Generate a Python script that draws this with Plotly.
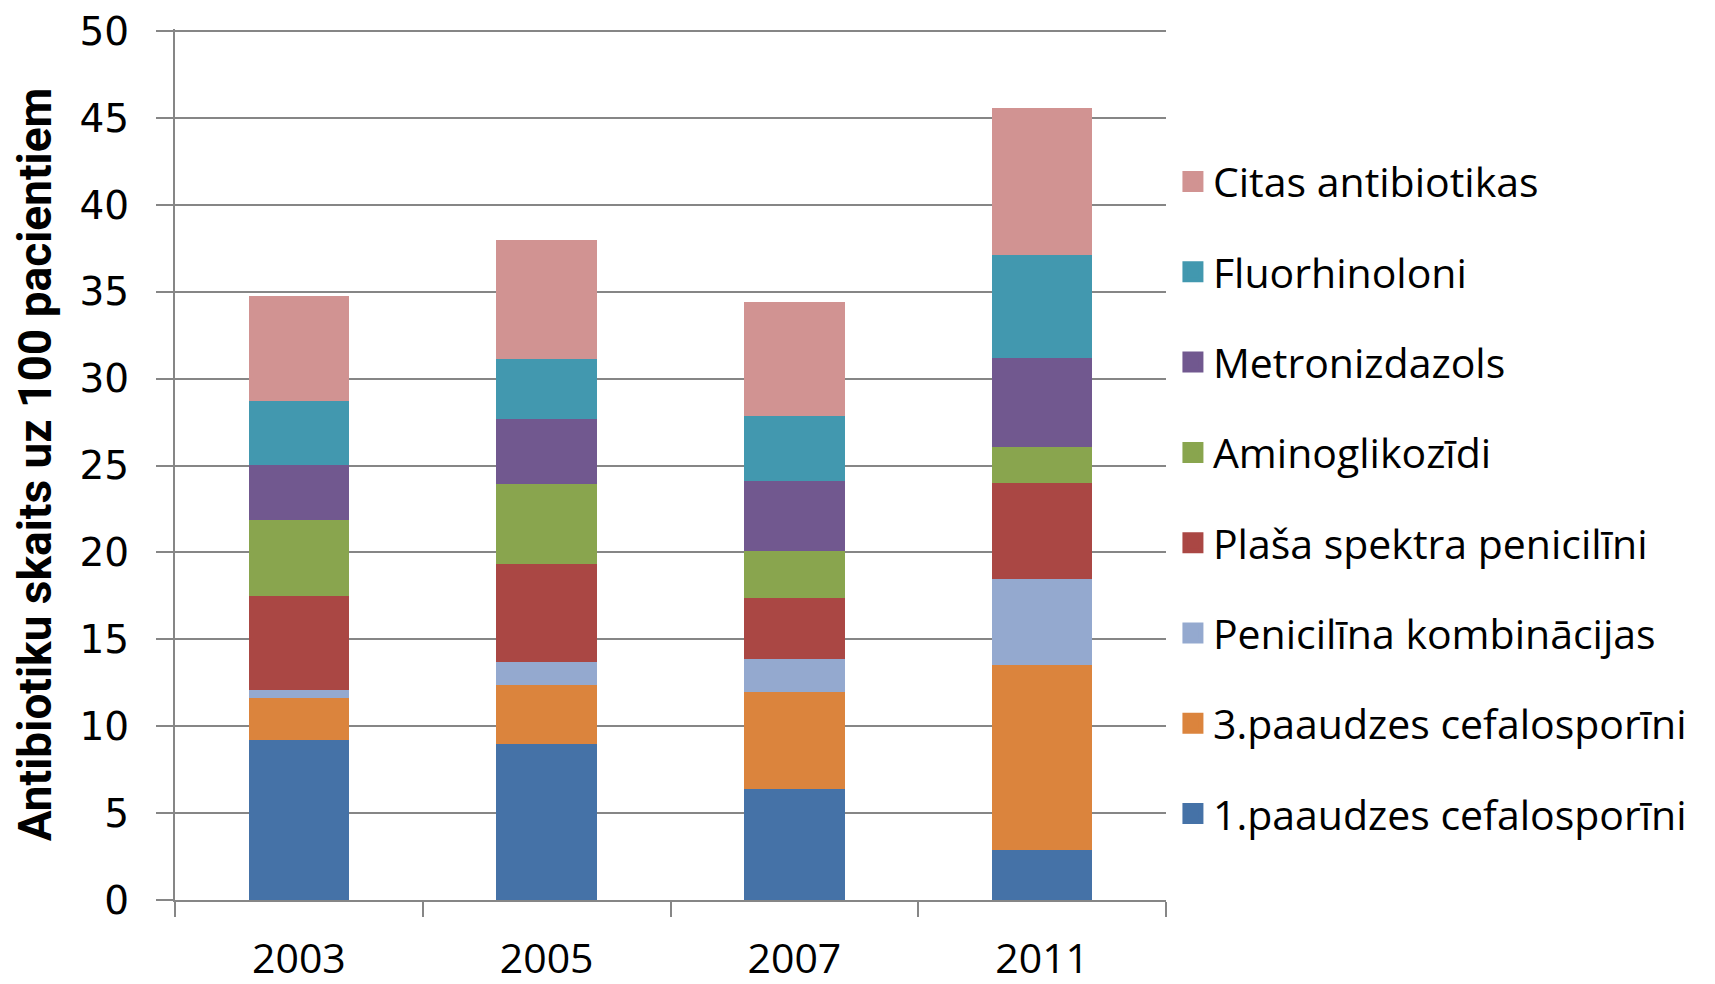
import plotly.graph_objects as go

years = ["2003", "2005", "2007", "2011"]

# stacked bottom -> top
cef1 = [9.2, 9.0, 6.4, 2.9]
cef3 = [2.4, 3.4, 5.55, 10.6]
pen_komb = [0.5, 1.3, 1.9, 4.95]
plasa_pen = [5.4, 5.65, 3.55, 5.55]
amino = [4.35, 4.6, 2.7, 2.05]
metro = [3.2, 3.7, 4.0, 5.15]
fluor = [3.65, 3.5, 3.75, 5.9]
citas = [6.05, 6.85, 6.55, 8.5]

y_ticks = [0, 5, 10, 15, 20, 25, 30, 35, 40, 45, 50]

series = [
    ("1.paaudzes cefalosporīni", cef1, "#4572A7"),
    ("3.paaudzes cefalosporīni", cef3, "#DB843D"),
    ("Penicilīna kombinācijas", pen_komb, "#94A9CF"),
    ("Plaša spektra penicilīni", plasa_pen, "#AA4744"),
    ("Aminoglikozīdi", amino, "#89A54E"),
    ("Metronizdazols", metro, "#71588F"),
    ("Fluorhinoloni", fluor, "#4298AF"),
    ("Citas antibiotikas", citas, "#D19392"),
]

grey = "#868686"
font = "Open Sans, Noto Sans, sans-serif"

fig = go.Figure()
for i, (name, vals, col) in enumerate(series):
    fig.add_trace(go.Bar(
        x=years, y=vals, name=name, legendgroup=name,
        showlegend=False,
        marker=dict(color=col, line=dict(width=0)),
    ))
    # legend-only entry so the swatch can be bigger than plotly's bar swatch
    fig.add_trace(go.Scatter(
        x=[None], y=[None], mode="markers", name=name, legendgroup=name,
        legendrank=len(series) - i,
        marker=dict(symbol="square", size=16, color=col,
                    line=dict(color=col, width=5)),
    ))

# page body has an 8px margin, so the figure is 8px smaller and shifted
fig.update_layout(
    barmode="stack",
    bargap=0.595,
    width=1707, height=976,
    margin=dict(l=167, r=549, t=21, b=84),
    paper_bgcolor="white",
    plot_bgcolor="white",
    font=dict(family=font, size=41, color="#000000"),
    showlegend=True,
    legend=dict(
        x=1.007, xanchor="left", y=0.863, yanchor="top",
        traceorder="grouped",
        tracegroupgap=34,
        font=dict(family=font, size=41, color="#000000"),
        bgcolor="rgba(0,0,0,0)",
    ),
    xaxis=dict(
        type="category",
        tickson="boundaries",
        ticks="outside", ticklen=15, tickwidth=2, tickcolor=grey,
        showline=True, linecolor=grey, linewidth=2,
        showgrid=False,
        automargin=False,
        ticklabelstandoff=22,
        ticklabeloverflow="allow",
        tickfont=dict(family=font, size=41),
    ),
    yaxis=dict(
        range=[0, 50.12],
        tickmode="array", tickvals=y_ticks,
        ticks="outside", ticklen=17, tickwidth=2, tickcolor=grey,
        showline=True, linecolor=grey, linewidth=2,
        showgrid=True, gridcolor=grey, gridwidth=2,
        zeroline=False,
        automargin=False,
        ticklabelstandoff=19,
        ticklabeloverflow="allow",
        tickfont=dict(family="DejaVu Sans, Open Sans, sans-serif", size=39),
        title=dict(
            text="<b>Antibiotiku skaits uz 100 pacientiem</b>",
            font=dict(family="Liberation Sans Narrow, Roboto, sans-serif", size=46),
            standoff=34,
        ),
    ),
)

fig.write_html("out.html")
